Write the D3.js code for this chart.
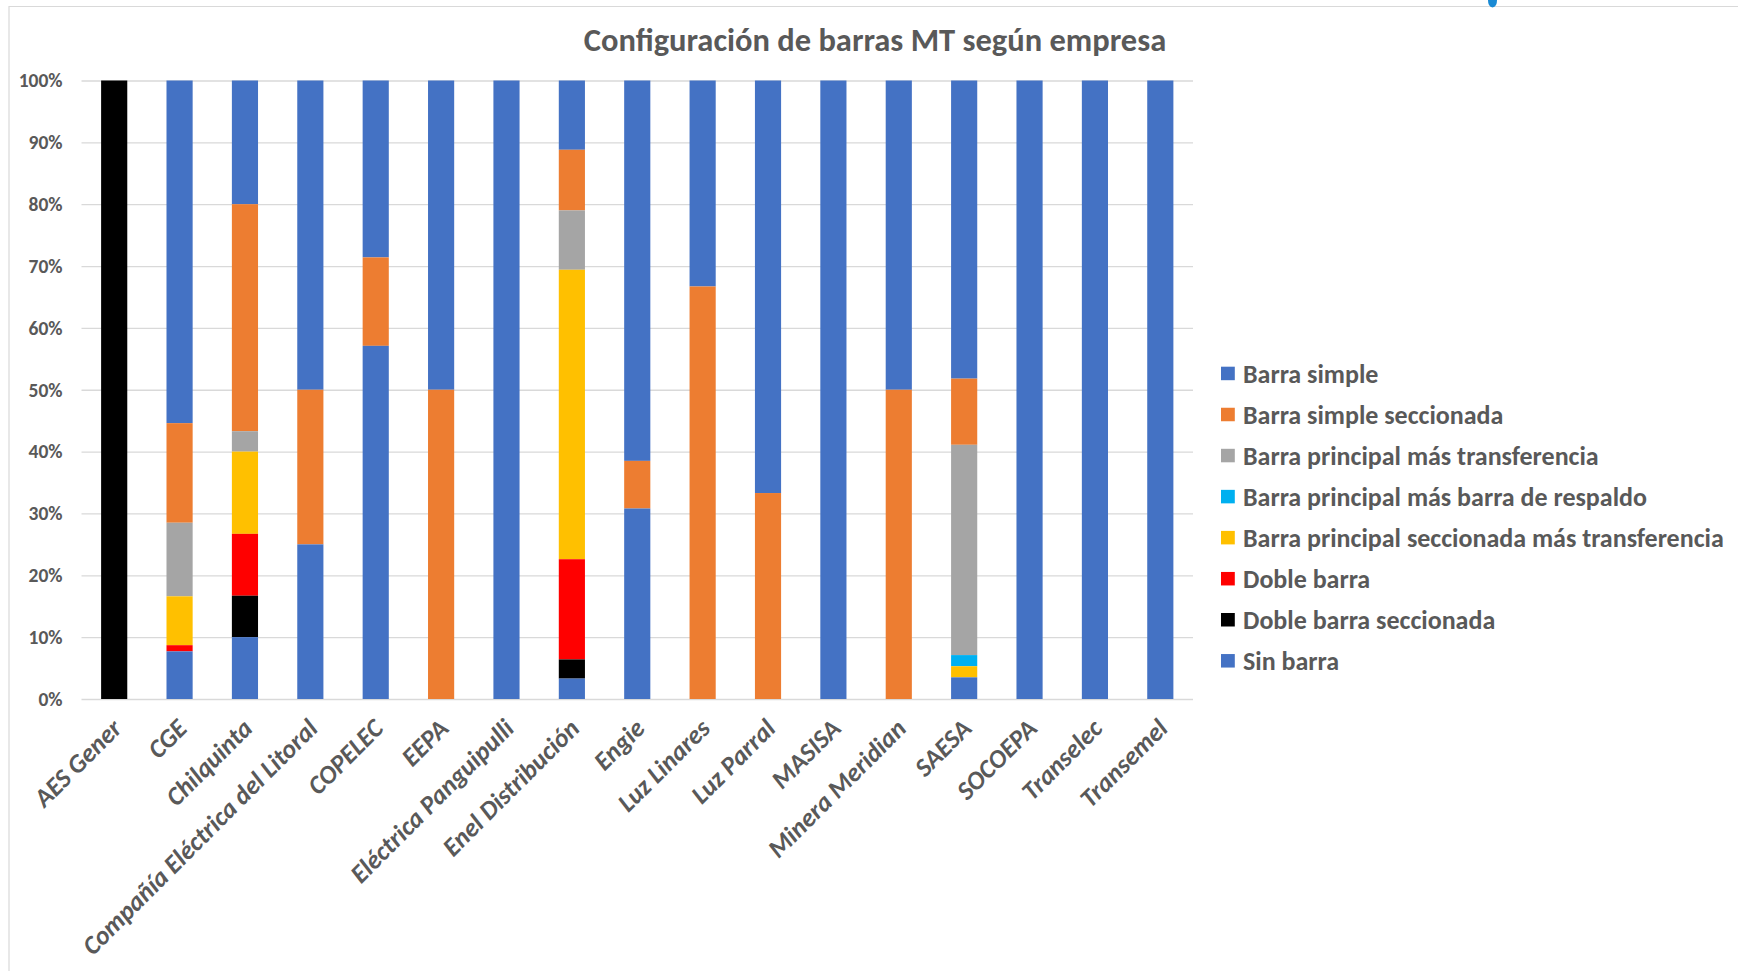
<!DOCTYPE html>
<html lang="es">
<head>
<meta charset="UTF-8">
<title>Configuración de barras MT según empresa</title>
<script src="https://d3js.org/d3.v7.min.js"></script>
<style>
  body { margin: 0; background: #fff; }
  svg { display: block; font-family: Carlito, Calibri, Lato, "Noto Sans", sans-serif; }
  .tick line { stroke: #d9d9d9; }
  .lbl { fill: #595959; font-weight: bold; }
</style>
</head>
<body>
<svg id="chart" width="1738" height="971"></svg>
<script>
// companies on the x axis
const categories = ["AES Gener", "CGE", "Chilquinta", "Compañía Eléctrica del Litoral", "COPELEC",
  "EEPA", "Eléctrica Panguipulli", "Enel Distribución", "Engie", "Luz Linares", "Luz Parral",
  "MASISA", "Minera Meridian", "SAESA", "SOCOEPA", "Transelec", "Transemel"]

// series names, in legend order
const series = ["Barra simple", "Barra simple seccionada", "Barra principal más transferencia",
  "Barra principal más barra de respaldo", "Barra principal seccionada más transferencia",
  "Doble barra", "Doble barra seccionada", "Sin barra"]
const colors = ["#4472C4", "#ED7D31", "#A5A5A5", "#00B0F0", "#FFC000", "#FF0000", "#000000", "#4472C4"]

// share (%) of each configuration per company
const barraSimple         = [0, 55.4, 20, 50, 28.6, 50, 100, 11.2, 61.5, 33.3, 66.7, 100, 50, 48.2, 100, 100, 100]
const barraSimpleSecc     = [0, 16.1, 36.7, 25, 14.3, 50, 0, 9.8, 7.7, 66.7, 33.3, 0, 50, 10.7, 0, 0, 0]
const principalTransf     = [0, 11.9, 3.3, 0, 0, 0, 0, 9.6, 0, 0, 0, 0, 0, 34.0, 0, 0, 0]
const principalRespaldo   = [0, 0, 0, 0, 0, 0, 0, 0, 0, 0, 0, 0, 0, 1.8, 0, 0, 0]
const principalSeccTransf = [0, 7.9, 13.3, 0, 0, 0, 0, 46.8, 0, 0, 0, 0, 0, 1.8, 0, 0, 0]
const dobleBarra          = [0, 1.0, 10, 0, 0, 0, 0, 16.2, 0, 0, 0, 0, 0, 0, 0, 0, 0]
const dobleBarraSecc      = [100, 0, 6.7, 0, 0, 0, 0, 3.1, 0, 0, 0, 0, 0, 0, 0, 0, 0]
const sinBarra            = [0, 7.7, 10, 25, 57.1, 0, 0, 3.3, 30.8, 0, 0, 0, 0, 3.5, 0, 0, 0]

const yTicks = [0, 10, 20, 30, 40, 50, 60, 70, 80, 90, 100]

const values = [barraSimple, barraSimpleSecc, principalTransf, principalRespaldo,
  principalSeccTransf, dobleBarra, dobleBarraSecc, sinBarra]

// one row per company for d3.stack
const table = categories.map((c, i) => {
  let row = { name: c }
  series.forEach((s, k) => { row[s] = values[k][i] })
  return row
})

const svg = d3.select("#chart")

// frame lines of the pasted chart
svg.append("line").attr("x1", 9).attr("x2", 1738).attr("y1", 6.5).attr("y2", 6.5)
  .attr("stroke", "#d9d9d9").attr("stroke-width", 1.2)
svg.append("line").attr("x1", 9).attr("x2", 9).attr("y1", 6).attr("y2", 971)
  .attr("stroke", "#d9d9d9").attr("stroke-width", 1.2)
// bit of a logo cut off at the top edge
svg.append("path").attr("d", "M1488,0 L1497,0 Q1497,7 1492.5,7.5 Q1488,7 1488,0 Z").attr("fill", "#1a8ad4")

const plotLeft = 81.5, plotRight = 1193, plotTop = 80.5, plotBottom = 699

const x = d3.scaleBand().domain(categories).range([plotLeft, plotRight]).paddingInner(0.6).paddingOuter(0.3)
const y = d3.scaleLinear().domain([0, 100]).range([plotBottom, plotTop])

// gridlines + y labels
const yAxis = svg.append("g")
  .attr("transform", "translate(" + plotLeft + ",0)")
  .call(d3.axisLeft(y).tickValues(yTicks).tickSize(-(plotRight - plotLeft)).tickPadding(19)
    .tickFormat(d => d + "%"))
yAxis.select(".domain").remove()
yAxis.selectAll(".tick line").attr("stroke", "#d9d9d9").attr("stroke-width", 1.3)
yAxis.selectAll(".tick text").attr("class", "lbl").style("font-size", "19.5px")
  .style("font-family", "Carlito, Calibri, Lato, sans-serif")

// stacked bars, first series on top
const stack = d3.stack().keys(series).order(d3.stackOrderReverse)
const layers = stack(table)

svg.append("g").selectAll("g")
  .data(layers)
  .enter()
  .append("g")
  .attr("fill", (d, i) => colors[series.indexOf(d.key)])
  .selectAll("rect")
  .data(d => d)
  .enter()
  .append("rect")
  .attr("x", d => x(d.data.name))
  .attr("width", x.bandwidth())
  .attr("y", d => y(d[1]))
  .attr("height", d => y(d[0]) - y(d[1]))

// x labels, rotated
svg.append("g").selectAll("text")
  .data(categories)
  .enter()
  .append("text")
  .attr("class", "lbl")
  .attr("text-anchor", "end")
  .style("font-style", "italic")
  .style("font-size", "26px")
  .attr("transform", d => "translate(" + (x(d) + x.bandwidth() / 2 + 9) + "," + (plotBottom + 31) + ") rotate(-45)")
  .text(d => d)

// title
svg.append("text")
  .attr("class", "lbl")
  .attr("x", 875)
  .attr("y", 51)
  .attr("text-anchor", "middle")
  .style("font-size", "32.5px")
  .text("Configuración de barras MT según empresa")

// legend
const legend = svg.append("g").selectAll("g")
  .data(series)
  .enter()
  .append("g")
  .attr("transform", (d, i) => "translate(1221," + (373.5 + i * 41.05) + ")")

legend.append("rect")
  .attr("x", 0).attr("y", -6.8)
  .attr("width", 13.8).attr("height", 13.5)
  .attr("fill", (d, i) => colors[i])

legend.append("text")
  .attr("class", "lbl")
  .attr("x", 22)
  .attr("y", 9.3)
  .style("font-size", "26px")
  .text(d => d)
</script>
</body>
</html>
